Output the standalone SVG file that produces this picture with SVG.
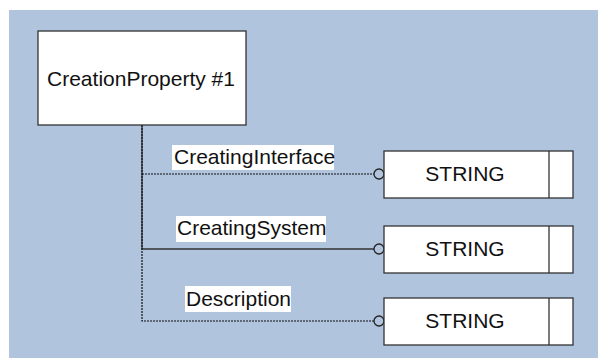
<svg xmlns="http://www.w3.org/2000/svg" width="598" height="358" viewBox="0 0 598 358">
<style>
.bg{fill:#B0C4DE}
.box{fill:#fff;stroke:#333;stroke-width:1.3}
.lbl{fill:#fff}
.t{font-family:"Liberation Sans",Arial,sans-serif;font-size:21px;fill:#111}
.dot{fill:none;stroke:#111;stroke-width:1.2;stroke-dasharray:2,1}
.solid{fill:none;stroke:#333;stroke-width:1.3}
.end{fill:none;stroke:#222;stroke-width:1.3}
</style>
<rect class="bg" x="9" y="10" width="589" height="348"/>
<g id="connectors">
<path class="solid" d="M142,125 V249 H374"/>
<path class="dot" d="M142,125 V321 H374"/>
<path class="dot" d="M142,174 H374"/>
<circle class="end" cx="379" cy="174" r="5"/>
<circle class="end" cx="379" cy="249" r="5"/>
<circle class="end" cx="379" cy="321" r="5"/>
<g id="label-creatinginterface">
<rect class="lbl" x="172" y="145" width="162" height="25"/>
<text class="t" x="174" y="164">CreatingInterface</text>
</g>
<g id="label-creatingsystem">
<rect class="lbl" x="176" y="216" width="150" height="26"/>
<text class="t" x="177" y="235">CreatingSystem</text>
</g>
<g id="label-description">
<rect class="lbl" x="185" y="286" width="106" height="26"/>
<text class="t" x="186" y="306">Description</text>
</g>
</g>
<g id="node-main">
<rect class="box" x="38" y="31" width="208" height="94"/>
<text class="t" x="141" y="86" text-anchor="middle">CreationProperty #1</text>
</g>
<g id="node-string1">
<rect class="box" x="384" y="151" width="189" height="47"/>
<line class="solid" x1="549" y1="151" x2="549" y2="198"/>
<text class="t" x="465" y="181" text-anchor="middle">STRING</text>
</g>
<g id="node-string2">
<rect class="box" x="384" y="226" width="189" height="47"/>
<line class="solid" x1="549" y1="226" x2="549" y2="273"/>
<text class="t" x="465" y="256" text-anchor="middle">STRING</text>
</g>
<g id="node-string3">
<rect class="box" x="384" y="298" width="189" height="47"/>
<line class="solid" x1="549" y1="298" x2="549" y2="345"/>
<text class="t" x="465" y="328" text-anchor="middle">STRING</text>
</g>
</svg>
